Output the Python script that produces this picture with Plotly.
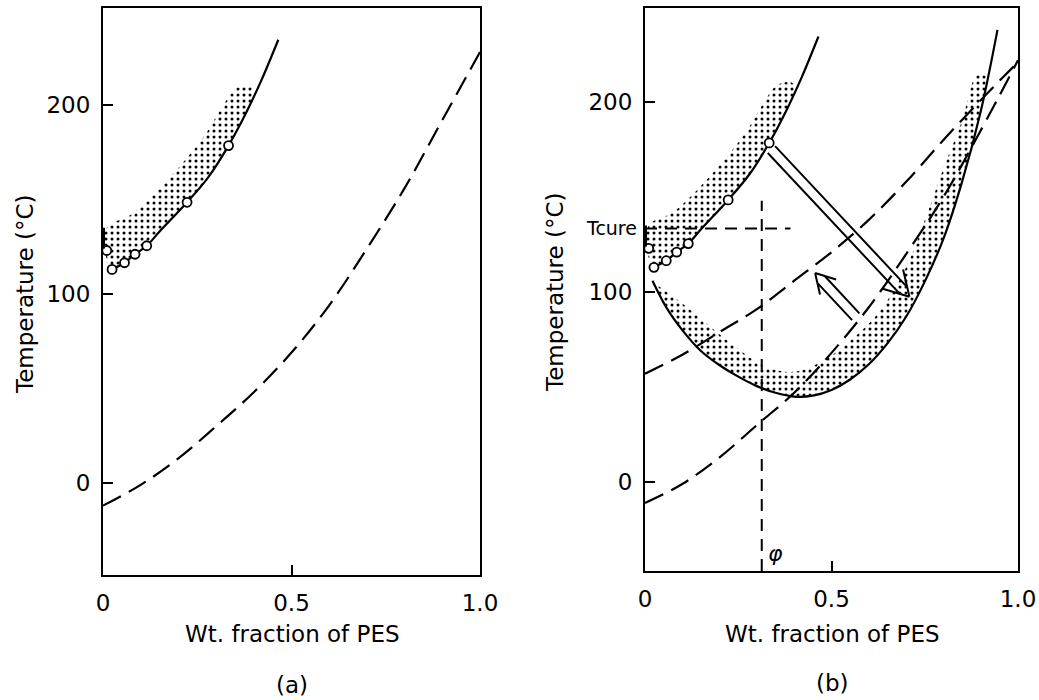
import math
import plotly.graph_objects as go

# ---------------- data ----------------
# weight-fraction grid for the glass-transition curves
phi_grid = [0.0, 0.1, 0.2, 0.3, 0.4, 0.5, 0.6, 0.7, 0.8, 0.9, 1.0]
# Tg of the uncured blend (long dashes), read per panel
tg_a = [-12, -1, 13, 30, 48, 69, 94, 124, 156, 192, 228]
tg_b = [-11, -1, 13, 30, 47, 68, 92, 120, 150, 185, 222]
# Tg after cure (upper long-dashed curve in panel b)
tg_cured_b = [57, 67, 79, 91, 106, 121, 138, 158, 180, 201, 221]

# cloud points (open circles) and the cloud-point curve
cloud_x = [0.01, 0.024, 0.057, 0.085, 0.116, 0.223, 0.333]
cloud_y = [123, 113, 116.5, 121, 125.5, 148.5, 178.5]
cp_curve_x = [0.024, 0.057, 0.085, 0.116, 0.15, 0.223, 0.28, 0.333, 0.38, 0.42, 0.465]
cp_curve_y = [113, 116.5, 121, 125.5, 133, 148.5, 162, 178.5, 196, 213, 234.5]

# stippled two-phase region above the cloud-point curve
cp_band_x = [0.01, 0.01, 0.075, 0.165, 0.27, 0.31, 0.355, 0.395, 0.40,
             0.38, 0.333, 0.28, 0.223, 0.15, 0.116, 0.085, 0.057, 0.024, 0.01]
cp_band_y = [118, 135, 142, 159, 184, 197, 209, 210, 205,
             196, 178.5, 162, 148.5, 133, 125.5, 121, 116.5, 113, 118]

# phase-separation curve during cure (U-shaped, panel b)
u_x = [0.02, 0.06, 0.1, 0.15, 0.2, 0.25, 0.3, 0.35, 0.4, 0.45, 0.5, 0.55,
       0.6, 0.65, 0.7, 0.75, 0.8, 0.85, 0.9, 0.945]
u_y = [106, 91, 80, 69, 61.5, 55.5, 50.5, 47, 45, 45.5, 48.5, 54,
       62, 73, 87, 105.5, 128, 158, 195, 238]

# stippled band inside the U curve: inner edge, then back along the U curve
u_band_x = [0.03, 0.10, 0.18, 0.25, 0.32, 0.40, 0.47, 0.56, 0.63, 0.70, 0.76, 0.80, 0.85, 0.89,
            0.918, 0.9, 0.85, 0.8, 0.75, 0.7, 0.65, 0.6, 0.55, 0.5, 0.45, 0.4, 0.35, 0.3,
            0.25, 0.2, 0.15, 0.1, 0.06, 0.02]
u_band_y = [104, 94, 81, 70, 61, 58, 63, 76, 90, 113, 143, 165, 190, 214,
            213, 195, 158, 128, 105.5, 87, 73, 62, 54, 48.5, 45.5, 45, 47, 50.5,
            55.5, 61.5, 69, 80, 91, 106]

# cure temperature and starting composition
t_cure = 133.5
phi_0 = 0.313
phi_line_top = 148

# double-line arrows in panel b: (tail, tip)
quench_arrow = ((0.339, 175.0), (0.709, 97.5))
return_arrow = ((0.565, 87.0), (0.456, 110.0))

# ---------------- figure geometry ----------------
W, H = 1039, 700
YR_A = [-48.7, 251.3]
YR_B = [-46.8, 249.5]
DOM_XA = [103 / W, 480 / W]
DOM_XB = [645 / W, 1018 / W]
DOM_YA = [1 - 575 / H, 1 - 8 / H]
DOM_YB = [1 - 571 / H, 1 - 8 / H]

FONT = "DejaVu Sans"
BLACK = "black"
LONG_DASH = "20px,9px"
SHORT_DASH = "12px,8px"

fig = go.Figure()


def band(x, y, xa, ya):
    fig.add_trace(go.Scatter(
        x=x, y=y, xaxis=xa, yaxis=ya, mode="lines", fill="toself",
        line=dict(width=0, color="rgba(0,0,0,0)", shape="spline", smoothing=1.0),
        fillcolor="rgba(0,0,0,0)",
        fillpattern=dict(shape=".", fgcolor=BLACK, bgcolor="rgba(0,0,0,0)",
                         size=6, solidity=0.2, fillmode="replace"),
        hoverinfo="skip", showlegend=False))


def curve(x, y, xa, ya, dash="solid", width=2.2):
    fig.add_trace(go.Scatter(
        x=x, y=y, xaxis=xa, yaxis=ya, mode="lines",
        line=dict(color=BLACK, width=width, dash=dash, shape="spline", smoothing=1.0),
        hoverinfo="skip", showlegend=False))


def circles(xa, ya):
    fig.add_trace(go.Scatter(
        x=cloud_x, y=cloud_y, xaxis=xa, yaxis=ya, mode="markers",
        marker=dict(symbol="circle", size=9, color="white",
                    line=dict(color=BLACK, width=1.8)),
        cliponaxis=False, hoverinfo="skip", showlegend=False))


# ---- panel (a) ----
band(cp_band_x, cp_band_y, "x", "y")
curve(phi_grid, tg_a, "x", "y", dash=LONG_DASH)
curve(cp_curve_x, cp_curve_y, "x", "y")
circles("x", "y")

# ---- panel (b) ----
band(cp_band_x, cp_band_y, "x2", "y2")
band(u_band_x, u_band_y, "x2", "y2")
curve(phi_grid, tg_b, "x2", "y2", dash=LONG_DASH)
curve(phi_grid, tg_cured_b, "x2", "y2", dash=LONG_DASH)
curve(u_x, u_y, "x2", "y2")
curve(cp_curve_x, cp_curve_y, "x2", "y2")
# T_cure / phi guide lines
fig.add_trace(go.Scatter(x=[0, 0.39], y=[t_cure, t_cure], xaxis="x2", yaxis="y2",
                         mode="lines", line=dict(color=BLACK, width=2, dash=SHORT_DASH),
                         hoverinfo="skip", showlegend=False))
fig.add_trace(go.Scatter(x=[phi_0, phi_0], y=[YR_B[0], phi_line_top], xaxis="x2", yaxis="y2",
                         mode="lines", line=dict(color=BLACK, width=2, dash=SHORT_DASH),
                         hoverinfo="skip", showlegend=False))
circles("x2", "y2")

shapes = []
# short heavy mark on the temperature axis at the edge of the stippled region
for xr, yr in (("x", "y"), ("x2", "y2")):
    shapes.append(dict(type="line", xref=xr, yref=yr, x0=0, x1=0, y0=124, y1=135,
                       line=dict(color=BLACK, width=4)))

# double-line (hollow) arrows, built in screen pixels then mapped to data units
SX = (DOM_XB[1] - DOM_XB[0]) * W          # px per unit of x
SY = (DOM_YB[1] - DOM_YB[0]) * H / (YR_B[1] - YR_B[0])  # px per unit of y


def hollow_arrow(tail, tip, gap=10, arm=26, half_angle=30):
    tx, ty = tail
    hx, hy = tip
    dxp, dyp = (hx - tx) * SX, (hy - ty) * SY
    L = math.hypot(dxp, dyp)
    ux, uy = dxp / L, dyp / L
    nx, ny = -uy, ux
    back = (gap / 2) / math.tan(math.radians(half_angle))

    def to_data(px, py):
        return hx + px / SX, hy + py / SY

    path = ""
    for s in (1, -1):
        a = to_data(-L * ux + s * nx * gap / 2, -L * uy + s * ny * gap / 2)
        b = to_data(-back * ux + s * nx * gap / 2, -back * uy + s * ny * gap / 2)
        path += f"M{a[0]},{a[1]} L{b[0]},{b[1]} "
    ca, sa = math.cos(math.radians(half_angle)), math.sin(math.radians(half_angle))
    for s in (1, -1):
        ex = -(ux * ca - s * uy * sa) * arm
        ey = -(uy * ca + s * ux * sa) * arm
        e = to_data(ex, ey)
        path += f"M{e[0]},{e[1]} L{hx},{hy} "
    return dict(type="path", xref="x2", yref="y2", path=path,
                line=dict(color=BLACK, width=2))


shapes.append(hollow_arrow(*quench_arrow, gap=10, arm=28))
shapes.append(hollow_arrow(*return_arrow, gap=10, arm=22))

axis_common = dict(showline=True, mirror=True, linewidth=2, linecolor=BLACK,
                   ticks="inside", ticklen=10, tickwidth=2, tickcolor=BLACK,
                   showgrid=False, zeroline=False, automargin=False,
                   tickfont=dict(family=FONT, size=23, color=BLACK),
                   ticklabelstandoff=6)
xticks = dict(tickvals=[0, 0.5, 1.0], ticktext=["0", "0.5", "1.0"], range=[0, 1])
yticks = dict(tickvals=[0, 100, 200], ticktext=["0", "100", "200"])

fig.update_layout(
    template="none",
    width=W, height=H, margin=dict(l=0, r=0, t=0, b=0, pad=0),
    paper_bgcolor="white", plot_bgcolor="white",
    font=dict(family=FONT, color=BLACK),
    xaxis=dict(domain=DOM_XA, anchor="y", **xticks, **axis_common),
    yaxis=dict(domain=DOM_YA, anchor="x", range=YR_A, **yticks, **axis_common),
    xaxis2=dict(domain=DOM_XB, anchor="y2", **xticks, **axis_common),
    yaxis2=dict(domain=DOM_YB, anchor="x2", range=YR_B, **yticks, **axis_common),
    shapes=shapes,
)

title_font = dict(family=FONT, size=23, color=BLACK)
ann = []


def label(x, y, text, font=title_font, angle=0, xref="paper", yref="paper", **kw):
    d = dict(xref=xref, yref=yref, x=x, y=y, text=text, showarrow=False,
             font=font, textangle=angle, xanchor="center", yanchor="middle")
    d.update(kw)
    ann.append(d)


for cx, cap_y, cap in ((292, 685, "(a)"), (832, 683, "(b)")):
    label(cx / W, 1 - 634 / H, "Wt. fraction of PES")
    label(cx / W, 1 - cap_y / H, cap)
label(25 / W, 1 - 294 / H, "Temperature (°C)", angle=-90)
label(555 / W, 1 - 292 / H, "Temperature (°C)", angle=-90)
label(0, t_cure, "Tcure", font=dict(family=FONT, size=19, color=BLACK),
      xref="x2", yref="y2", xanchor="right", xshift=-6)
label(phi_0, -37.5, "<i>φ</i>", font=dict(family=FONT, size=22, color=BLACK),
      xref="x2", yref="y2", xanchor="left", xshift=4)
fig.update_layout(annotations=ann)

fig.write_html("out.html")
